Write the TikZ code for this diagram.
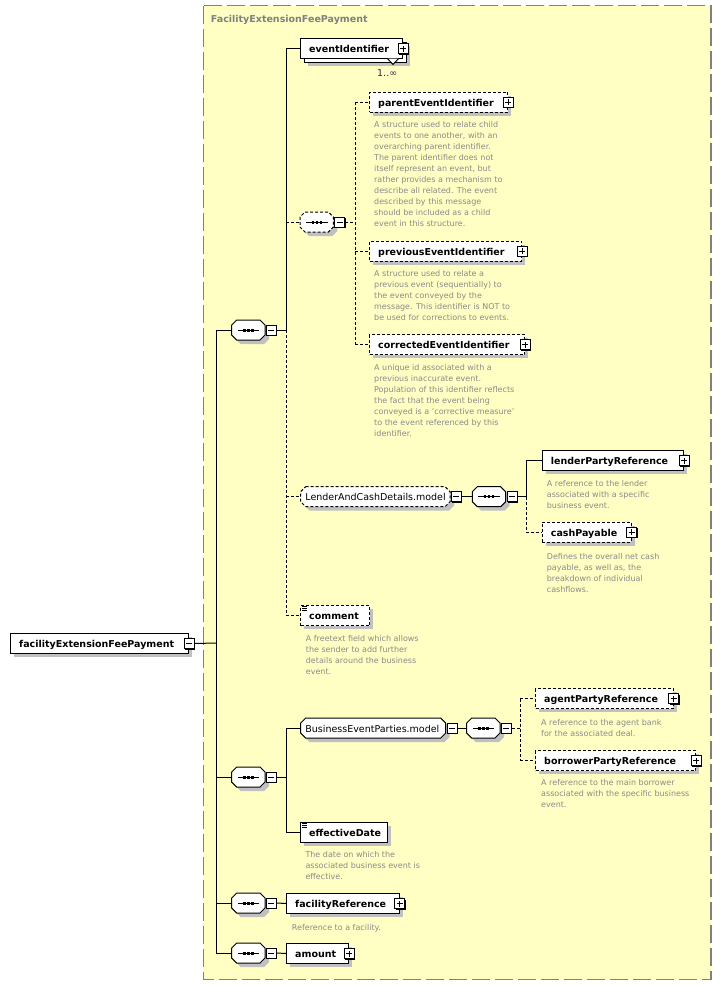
\documentclass[tikz,border=0pt]{standalone}
\usepackage{fontspec}
\setmainfont{DejaVu Sans}
\definecolor{bgyel}{HTML}{FFFFC4}
\definecolor{shadowc}{HTML}{C0C0C0}
\definecolor{descc}{HTML}{8A8A8A}
\definecolor{framec}{HTML}{808080}
\definecolor{occc}{HTML}{4A1A4A}
\newcommand{\dstrut}{\rule{0pt}{6.5pt}}
\newcommand{\OctShape}[4]{%
  \path[#1] (#2+5,#3-10) -- (#2+#4-5,#3-10) -- (#2+#4,#3-5) -- (#2+#4,#3+5) -- (#2+#4-5,#3+10) -- (#2+5,#3+10) -- (#2,#3+5) -- (#2,#3-5) -- cycle;}
\newcommand{\PMBox}[3]{%
  \fill[black] ([shift={(-4pt,4pt)}]#2) rectangle ([shift={(6pt,-6pt)}]#2);
  \node[pmbox] (#1) at (#2) {};
  \draw[line width=1pt] ([xshift=-3pt]#1.center) -- ([xshift=3pt]#1.center);
  \ifnum#3=1 \draw[line width=1pt] ([yshift=-3pt]#1.center) -- ([yshift=3pt]#1.center);\fi}
\newcommand{\ElemBox}[6][]{%
  \fill[shadowc] (#3+4,#4+4) rectangle (#3+4+#5,#4+24);
  \node[ebox,#1,minimum width=#5] (#2) at (#3,#4) {};
  \node[elabel] (#2-t) at ([shift={(9pt,-4pt)}]#2.west) {#6};}
\newcommand{\SeqComp}[5][]{%
  \OctShape{fill=shadowc}{#3+4}{#4+4}{#5}
  \OctShape{draw,fill=white,line width=1pt,#1}{#3}{#4}{#5}
  \node[cnode,minimum width=#5] (#2) at (#3,#4) {};
  \draw[line width=1pt] ([xshift=6pt]#2.west) -- ([xshift=-6pt]#2.east);
  \foreach \dx in {-5.3,-1.3,2.7} \fill ([shift={(\dx,-1.5)}]#2.center) rectangle +(2.6,3);
  \coordinate (#2-mc) at ([xshift=6pt]#2.east);
  \PMBox{#2-m}{#2-mc}{0}}
\newcommand{\ModelComp}[6][]{%
  \OctShape{fill=shadowc}{#3+4}{#4+4}{#5}
  \OctShape{draw,fill=white,line width=1pt,#1}{#3}{#4}{#5}
  \node[cnode,minimum width=#5] (#2) at (#3,#4) {};
  \node[mlabel] (#2-t) at ([shift={(4.5pt,-4pt)}]#2.west) {#6};
  \coordinate (#2-mc) at ([xshift=6pt]#2.east);
  \PMBox{#2-m}{#2-mc}{0}}
\newcommand{\SimpleIcon}[1]{%
  \foreach \dy in {1.5,3.5,5.5} \draw[line width=0.8pt] ([shift={(2pt,-\dy pt)}]#1.north west) -- +(5pt,0pt);}
\tikzset{
  ebox/.style={draw, fill=white, line width=1pt, inner sep=0pt, minimum height=20, anchor=north west},
  cnode/.style={inner sep=0pt, minimum height=20, anchor=west},
  pmbox/.style={draw, fill=white, line width=1pt, inner sep=0pt, minimum size=10},
  elabel/.style={anchor=base west, inner sep=0pt, font=\fontsize{9.5}{11}\selectfont\bfseries},
  mlabel/.style={anchor=base west, inner sep=0pt, font=\fontsize{9.5}{11}\selectfont},
  desc/.style={anchor=north west, inner sep=0pt, align=left, text=descc, font=\fontsize{8}{11}\selectfont},
  opt/.style={dash pattern=on 3pt off 2pt},
  conn/.style={line width=1pt},
}
\begin{document}
\begin{tikzpicture}[x=1pt,y=-1pt]
\useasboundingbox (0,0) rectangle (722,985);
\fill[white] (0,0) rectangle (722,985);
\draw[framec, line width=1.3pt, dash pattern=on 18pt off 5pt, fill=bgyel] (203.3,5.5) rectangle (711,979.3);
\node[anchor=base west, inner sep=0pt, text=framec, font=\fontsize{9.5}{11}\selectfont\bfseries] (title) at (210.7,22) {FacilityExtensionFeePayment};

% root
\ElemBox{root}{10}{633}{178}{facilityExtensionFeePayment}
\PMBox{root-m}{root.east}{0}

% compositors on trunk
\SeqComp{seq1}{231.7}{330}{33.3}
\SeqComp{seq2}{231.7}{777}{33.3}
\SeqComp{seq3}{231.7}{903}{33.3}
\SeqComp{seq4}{231.7}{953}{33.3}

% eventIdentifier (stacked)
\fill[shadowc] (308,46) rectangle (410,66);
\draw[line width=1pt, fill=white] (304,42) rectangle (406,62);
\node[ebox, minimum width=102] (eid) at (300,38) {};
\node[elabel] (eid-t) at ([shift={(9pt,-4pt)}]eid.west) {eventIdentifier};
\fill[white] (387.5,58.6) -- (393,64.5) -- (398.5,58.6) -- cycle;
\draw[line width=1pt] (387.5,58.6) -- (393,64.5) -- (398.5,58.6);
\PMBox{eid-p}{eid.east}{1}
\node[anchor=base west, inner sep=0pt, text=occc, font=\fontsize{9.5}{11}\selectfont] (eid-occ) at (377,76.5) {1..∞};

% inner optional sequence
\SeqComp[opt]{seqi}{300}{222}{33.3}

\ElemBox[opt]{parent}{369}{91.5}{138}{parentEventIdentifier}
\PMBox{parent-p}{parent.east}{1}
\node[desc] (parent-d) at (374,120.5) {\dstrut A structure used to relate child\\events to one another, with an\\overarching parent identifier.\\The parent identifier does not\\itself represent an event, but\\rather provides a mechanism to\\describe all related. The event\\described by this message\\should be included as a child\\event in this structure.};

\ElemBox[opt]{previous}{369}{240.5}{152}{previousEventIdentifier}
\PMBox{previous-p}{previous.east}{1}
\node[desc] (previous-d) at (374,270.2) {\dstrut A structure used to relate a\\previous event (sequentially) to\\the event conveyed by the\\message. This identifier is NOT to\\be used for corrections to events.};

\ElemBox[opt]{corrected}{369}{334}{155}{correctedEventIdentifier}
\PMBox{corrected-p}{corrected.east}{1}
\node[desc] (corrected-d) at (374,364.2) {\dstrut A unique id associated with a\\previous inaccurate event.\\Population of this identifier reflects\\the fact that the event being\\conveyed is a 'corrective measure'\\to the event referenced by this\\identifier.};

% LenderAndCashDetails.model
\ModelComp[opt]{lcd}{300.7}{496.7}{149.3}{LenderAndCashDetails.model}
\SeqComp{seqL}{472.3}{496.7}{33.3}
\ElemBox{lender}{541.7}{450}{141.5}{lenderPartyReference}
\PMBox{lender-p}{lender.east}{1}
\node[desc] (lender-d) at (546.7,480.2) {\dstrut A reference to the lender\\associated with a specific\\business event.};
\ElemBox[opt]{cash}{541.7}{521.7}{89}{cashPayable}
\PMBox{cash-p}{cash.east}{1}
\node[desc] (cash-d) at (546.7,552.5) {\dstrut Defines the overall net cash\\payable, as well as, the\\breakdown of individual\\cashflows.};

% comment
\ElemBox[opt]{comment}{300}{605}{69}{comment}
\SimpleIcon{comment}
\node[desc] (comment-d) at (305.7,634.5) {\dstrut A freetext field which allows\\the sender to add further\\details around the business\\event.};

% BusinessEventParties.model
\ModelComp{bep}{300.7}{728}{145}{BusinessEventParties.model}
\SeqComp{seqB}{466.7}{728}{33.3}
\ElemBox[opt]{agent}{535}{688.3}{137.5}{agentPartyReference}
\PMBox{agent-p}{agent.east}{1}
\node[desc] (agent-d) at (541,719.2) {\dstrut A reference to the agent bank\\for the associated deal.};
\ElemBox[opt]{borrower}{535}{750}{160}{borrowerPartyReference}
\PMBox{borrower-p}{borrower.east}{1}
\node[desc] (borrower-d) at (541,779.2) {\dstrut A reference to the main borrower\\associated with the specific business\\event.};

% effectiveDate
\ElemBox{eff}{300}{821.7}{87}{effectiveDate}
\SimpleIcon{eff}
\node[desc] (eff-d) at (305.3,850.5) {\dstrut The date on which the\\associated business event is\\effective.};

% facilityReference, amount
\ElemBox{facref}{286}{893}{112.5}{facilityReference}
\PMBox{facref-p}{facref.east}{1}
\node[desc] (facref-d) at (291.7,923.5) {\dstrut Reference to a facility.};
\ElemBox{amount}{286}{943}{62}{amount}
\PMBox{amount-p}{amount.east}{1}

% connectors
\coordinate (jr) at (216,643);
\coordinate (b1) at (286,0);
\coordinate (b2) at (355,0);
\coordinate (b3) at (526,0);
\coordinate (b5) at (520,0);

\draw[conn] (root-m.east) -- (jr);
\draw[conn] (seq1.west -| jr) -- (seq4.west -| jr);
\foreach \s in {seq1,seq2,seq3,seq4} \draw[conn] (\s.west -| jr) -- (\s.west);

\draw[conn] (seq1-m.east) -- (seq1-m.east -| b1);
\draw[conn] (eid.west -| b1) -- (seq1-m.east -| b1);
\draw[conn] (eid.west -| b1) -- (eid.west);
\draw[conn,opt] (seq1-m.east -| b1) -- (comment.west -| b1);
\draw[conn,opt] (seqi.west -| b1) -- (seqi.west);
\draw[conn,opt] (lcd.west -| b1) -- (lcd.west);
\draw[conn,opt] (comment.west -| b1) -- (comment.west);

\draw[conn,opt] (seqi-m.east) -- (seqi-m.east -| b2);
\draw[conn,opt] (parent.west -| b2) -- (corrected.west -| b2);
\foreach \e in {parent,previous,corrected} \draw[conn,opt] (\e.west -| b2) -- (\e.west);

\draw[conn] (lcd-m.east) -- (seqL.west);
\draw[conn] (seqL-m.east) -- (seqL-m.east -| b3);
\draw[conn] (lender.west -| b3) -- (seqL-m.east -| b3);
\draw[conn] (lender.west -| b3) -- (lender.west);
\draw[conn,opt] (seqL-m.east -| b3) -- (cash.west -| b3) -- (cash.west);

\draw[conn] (seq2-m.east) -- (seq2-m.east -| b1);
\draw[conn] (bep.west -| b1) -- (eff.west -| b1);
\draw[conn] (bep.west -| b1) -- (bep.west);
\draw[conn] (eff.west -| b1) -- (eff.west);
\draw[conn] (bep-m.east) -- (seqB.west);
\draw[conn,opt] (seqB-m.east) -- (seqB-m.east -| b5);
\draw[conn,opt] (agent.west -| b5) -- (borrower.west -| b5);
\foreach \e in {agent,borrower} \draw[conn,opt] (\e.west -| b5) -- (\e.west);

\draw[conn] (seq3-m.east) -- (facref.west);
\draw[conn] (seq4-m.east) -- (amount.west);
\end{tikzpicture}
\end{document}
